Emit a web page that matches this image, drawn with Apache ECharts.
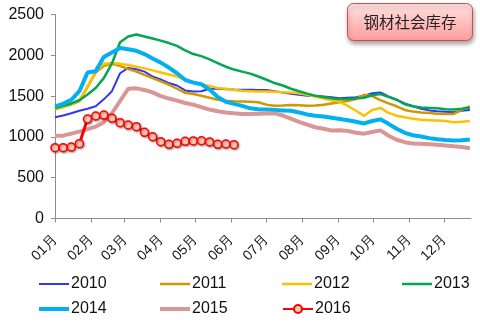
<!DOCTYPE html>
<html>
<head>
<meta charset="utf-8">
<script src="https://cdn.jsdelivr.net/npm/echarts@6/dist/echarts.min.js"></script>
<style>
  html, body { margin: 0; padding: 0; background: #fff; }
  #chart { width: 480px; height: 322px; }
</style>
</head>
<body>
<div id="chart"></div>
<script>
// Weekly steel social inventory (10k tonnes), one row per year, week 1 = first week of January
const years = ['2010', '2011', '2012', '2013', '2014', '2015', '2016'];

const y2010 = [1240, 1262, 1290, 1320, 1345, 1375, 1460, 1560, 1780, 1845, 1830, 1800, 1740, 1705, 1660, 1630,
  1570, 1555, 1560, 1590, 1590, 1585, 1580, 1578, 1578, 1575, 1575, 1560, 1545, 1530, 1515, 1505,
  1500, 1495, 1485, 1475, 1480, 1485, 1505, 1535, 1545, 1495, 1455, 1410, 1375, 1345, 1325, 1315,
  1308, 1302, 1320, 1330];
const y2011 = [1335, 1365, 1395, 1440, 1610, 1790, 1870, 1895, 1870, 1830, 1800, 1760, 1720, 1680, 1640, 1590,
  1540, 1525, 1505, 1480, 1455, 1442, 1438, 1435, 1432, 1425, 1395, 1382, 1385, 1390, 1388, 1383,
  1385, 1395, 1410, 1425, 1440, 1465, 1515, 1500, 1450, 1410, 1375, 1330, 1310, 1300, 1292, 1285,
  1282, 1282, 1330, 1375];
const y2012 = [1340, 1370, 1400, 1450, 1620, 1800, 1895, 1905, 1895, 1880, 1860, 1840, 1815, 1790, 1765, 1740,
  1700, 1670, 1645, 1625, 1600, 1590, 1575, 1565, 1560, 1555, 1555, 1552, 1548, 1545, 1535, 1515,
  1495, 1470, 1450, 1430, 1380, 1320, 1258, 1330, 1355, 1295, 1260, 1240, 1222, 1210, 1205, 1200,
  1195, 1180, 1185, 1195];
const y2013 = [1355, 1380, 1410, 1450, 1520, 1600, 1720, 1900, 2160, 2230, 2255, 2230, 2205, 2180, 2150, 2115,
  2060, 2015, 1990, 1950, 1905, 1860, 1825, 1800, 1775, 1740, 1700, 1660, 1630, 1590, 1560, 1530,
  1505, 1490, 1475, 1462, 1465, 1472, 1480, 1510, 1525, 1490, 1455, 1400, 1375, 1360, 1355, 1350,
  1340, 1335, 1345, 1360];
const y2014 = [1375, 1405, 1455, 1560, 1790, 1805, 1980, 2035, 2090, 2075, 2055, 2015, 1960, 1910, 1850, 1780,
  1700, 1665, 1645, 1580, 1490, 1430, 1405, 1380, 1350, 1340, 1335, 1330, 1325, 1320, 1300, 1275,
  1260, 1250, 1235, 1220, 1205, 1185, 1165, 1195, 1215, 1160, 1100, 1050, 1020, 1005, 985, 970,
  962, 955, 958, 968];
const y2015 = [1015, 1015, 1040, 1065, 1095, 1125, 1180, 1290, 1440, 1590, 1595, 1575, 1545, 1500, 1470, 1445,
  1415, 1395, 1365, 1335, 1315, 1300, 1290, 1282, 1282, 1285, 1287, 1288, 1262, 1225, 1185, 1150,
  1118, 1100, 1078, 1082, 1072, 1050, 1040, 1060, 1080, 1015, 965, 935, 920, 915, 910, 905,
  895, 885, 875, 862];
const y2016 = [868, 868, 876, 917, 1219, 1256, 1268, 1228, 1174, 1146, 1125, 1056, 1002, 941, 909, 922,
  946, 950, 953, 938, 909, 913, 904];

const yTicks = [0, 500, 1000, 1500, 2000, 2500];
const titleText = '钢材社会库存';

// All years are plotted on a shared Jan–Dec calendar
const weekDates = Array.from({ length: 52 }, (_, i) => new Date(2016, 0, 1 + 7 * i));
const axisStart = new Date(2016, 0, 1);
const axisEnd = new Date(2016, 11, 24);

const valuesByYear = { '2010': y2010, '2011': y2011, '2012': y2012, '2013': y2013, '2014': y2014, '2015': y2015, '2016': y2016 };

const styles = {
  '2010': { color: '#3535F5', width: 2 },
  '2011': { color: '#CC9900', width: 2.5 },
  '2012': { color: '#FFC000', width: 2.5 },
  '2013': { color: '#00A84F', width: 2.5 },
  '2014': { color: '#00B0F0', width: 4 },
  '2015': { color: '#D99694', width: 4 },
  '2016': { color: '#FF0000', width: 3 }
};

const FONT = "'Liberation Sans', Arial, sans-serif";

const series = years.map(name => {
  const st = styles[name];
  const data = valuesByYear[name].map((v, i) => [weekDates[i], v]);
  const s = {
    name, type: 'line', data,
    lineStyle: { color: st.color, width: st.width },
    itemStyle: { color: st.color },
    symbol: 'none',
    animation: false,
    z: 2
  };
  if (name === '2016') {
    s.symbol = 'circle';
    s.symbolSize = 8;
    s.showSymbol = true;
    s.itemStyle = {
      color: '#FFC9B5', borderColor: '#FF0000', borderWidth: 1.5,
      shadowColor: 'rgba(0,0,0,0.35)', shadowBlur: 2, shadowOffsetX: 1, shadowOffsetY: 1
    };
    s.z = 5;
  }
  return s;
});

// Legend laid out as a 4-column grid, two rows; plain years use a flat bar
// the thickness of their line, the marker year keeps its line+dot icon
const legendCols = [39, 160, 282, 402];
const legendRowCenters = [282, 307];
const legends = years.map((name, i) => {
  const withMarker = name === '2016';
  const h = withMarker ? 10 : styles[name].width;
  return {
    data: [withMarker ? { name } : { name, icon: 'rect' }],
    left: legendCols[i % 4],
    top: legendRowCenters[Math.floor(i / 4)] - 6,
    itemWidth: 30,
    itemHeight: h,
    itemGap: 0,
    padding: 0,
    textStyle: { fontFamily: FONT, fontSize: 16, color: '#111', padding: [0, 0, 0, -3] },
    selectedMode: false
  };
});

const pad2 = n => (n < 10 ? '0' : '') + n;

const chart = echarts.init(document.getElementById('chart'), null, { renderer: 'canvas' });
chart.setOption({
  animation: false,
  backgroundColor: '#fff',
  grid: { left: 55, right: 9, top: 14.5, bottom: 103.5, containLabel: false },
  legend: legends,
  xAxis: {
    type: 'time',
    min: axisStart,
    max: axisEnd,
    splitNumber: 12,
    minInterval: 28 * 86400000,
    maxInterval: 31 * 86400000,
    axisLine: { show: true, lineStyle: { color: '#8C8C8C', width: 1 } },
    axisTick: { show: true, length: 4, lineStyle: { color: '#8C8C8C' } },
    splitLine: { show: false },
    axisLabel: {
      rotate: 45,
      margin: 19,
      fontFamily: FONT,
      fontSize: 14,
      color: '#111',
      hideOverlap: false,
      showMaxLabel: false,
      formatter: v => pad2(new Date(v).getMonth() + 1) + '月'
    }
  },
  yAxis: {
    type: 'value',
    min: yTicks[0],
    max: yTicks[yTicks.length - 1],
    interval: yTicks[1] - yTicks[0],
    axisLine: { show: true, lineStyle: { color: '#8C8C8C', width: 1 } },
    axisTick: { show: true, length: 4, lineStyle: { color: '#8C8C8C' } },
    splitLine: { show: false },
    axisLabel: { fontFamily: FONT, fontSize: 16, color: '#111', margin: 11, formatter: v => String(v) }
  },
  graphic: [{
    type: 'group',
    left: 347,
    top: 3,
    children: [{
      type: 'rect',
      shape: { x: 0, y: 0, width: 125, height: 37, r: 6 },
      style: {
        fill: new echarts.graphic.LinearGradient(0, 0, 0, 1, [
          { offset: 0, color: '#FFE2E2' },
          { offset: 1, color: '#FF9C9C' }
        ]),
        stroke: '#C8504D',
        lineWidth: 1,
        shadowColor: 'rgba(0,0,0,0.35)',
        shadowBlur: 4,
        shadowOffsetX: 1,
        shadowOffsetY: 3
      }
    }, {
      type: 'text',
      x: 62.5,
      y: 18.5,
      style: {
        text: titleText,
        fontFamily: "'Noto Sans CJK SC', sans-serif",
        fontSize: 15.5,
        fill: '#222',
        align: 'center',
        verticalAlign: 'middle'
      }
    }]
  }],
  series
});
</script>
</body>
</html>
